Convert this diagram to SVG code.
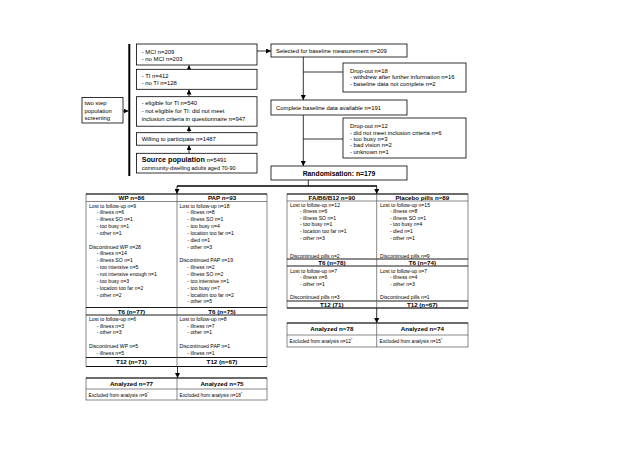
<svg xmlns="http://www.w3.org/2000/svg" width="640" height="452" viewBox="0 0 640 452">
<style>
text{font-family:"Liberation Sans",Arial,sans-serif;fill:#000}
.t{font-size:5.9px}
.s{font-size:5.1px}
.x{font-size:4.8px}
.h{font-weight:bold;font-size:6.2px;text-anchor:middle}
.box{fill:#fff;stroke:#000;stroke-width:0.8}
.tb{fill:#fff;stroke:#555;stroke-width:0.7}
.g{stroke:#555;stroke-width:0.7;fill:none}
.k{stroke:#000;stroke-width:0.9;fill:none}
.ln{stroke:#000;stroke-width:0.8;fill:none}
</style>
<defs>
<marker id="ah" markerUnits="userSpaceOnUse" markerWidth="5" markerHeight="5" refX="5" refY="2.5" orient="auto">
<path d="M0,0 L5,2.5 L0,5 z" fill="#000"/>
</marker>
</defs>
<rect width="640" height="452" fill="#fff"/>

<g id="connectors">
<line class="ln" x1="123" y1="111" x2="128.5" y2="111" marker-end="url(#ah)"/>
<line x1="129.3" y1="44" x2="129.3" y2="176" stroke="#000" stroke-width="2"/>
<line class="ln" x1="189" y1="153.3" x2="189" y2="145.2" marker-end="url(#ah)"/>
<line class="ln" x1="189" y1="132.7" x2="189" y2="126.2" marker-end="url(#ah)"/>
<line class="ln" x1="189" y1="96.7" x2="189" y2="89.5" marker-end="url(#ah)"/>
<line class="ln" x1="189" y1="69.3" x2="189" y2="65.2" marker-end="url(#ah)"/>
<line class="ln" x1="257" y1="51" x2="271" y2="51" marker-end="url(#ah)"/>
<line class="ln" x1="303.3" y1="57" x2="303.3" y2="100" marker-end="url(#ah)"/>
<line class="ln" x1="303.3" y1="72" x2="343" y2="72"/>
<line class="ln" x1="303.3" y1="115" x2="303.3" y2="166" marker-end="url(#ah)"/>
<line class="ln" x1="303.3" y1="139" x2="343" y2="139"/>
<line class="ln" x1="308.3" y1="180" x2="308.3" y2="186"/>
<line x1="177" y1="186" x2="377" y2="186" stroke="#000" stroke-width="1.4"/>
<line class="ln" x1="177" y1="186" x2="177" y2="194" marker-end="url(#ah)"/>
<line class="ln" x1="376.7" y1="186" x2="376.7" y2="194" marker-end="url(#ah)"/>
<line class="ln" x1="177.5" y1="366.5" x2="177.5" y2="378" marker-end="url(#ah)"/>
<line class="ln" x1="376.7" y1="308" x2="376.7" y2="323" marker-end="url(#ah)"/>
</g>

<g id="two-step">
<rect class="box" x="82" y="97.5" width="41" height="25.5"/>
<text class="t" x="84.5" y="105.3">two step</text>
<text class="t" x="84.5" y="112.7">population</text>
<text class="t" x="84.5" y="119.9">screening</text>
</g>

<g id="mci">
<rect class="box" x="136.5" y="44" width="120.5" height="21"/>
<text class="t" x="141.7" y="53.7">- MCI n=209</text>
<text class="t" x="141.7" y="61.3">- no MCI n=203</text>
</g>
<g id="ti">
<rect class="box" x="136.5" y="69.3" width="120.5" height="20"/>
<text class="t" x="141.7" y="78">- TI n=412</text>
<text class="t" x="141.7" y="85.3">- no TI n=128</text>
</g>
<g id="eligible">
<rect class="box" x="136.5" y="96.7" width="120.5" height="29.5"/>
<text class="t" x="141.7" y="105.3">- eligible for TI n=540</text>
<text class="t" x="141.7" y="112.7">- not eligible for TI: did not meet</text>
<text class="t" x="141.7" y="121">inclusion criteria in questionnaire n=947</text>
</g>
<g id="willing">
<rect class="box" x="136.5" y="132.7" width="120.5" height="12.5"/>
<text class="t" x="141.7" y="141.2">Willing to participate n=1487</text>
</g>
<g id="source">
<rect class="box" x="136.5" y="153.3" width="120.5" height="19.7"/>
<text x="141.7" y="161.8" style="font-size:7.2px;font-weight:bold">Source population <tspan style="font-size:5.9px;font-weight:normal">n=5491</tspan></text>
<text class="t" x="141.7" y="169.5" style="font-size:5.5px">community-dwelling adults aged 70-90</text>
</g>

<g id="selected">
<rect class="box" x="271" y="44" width="136" height="13"/>
<text class="t" x="276" y="52.7">Selected for baseline measurement n=209</text>
</g>
<g id="dropout18">
<rect class="box" x="343" y="63" width="123" height="29"/>
<text class="t" x="350" y="72.5">Drop-out n=18</text>
<text class="t" x="350" y="79">- withdrew after further information n=16</text>
<text class="t" x="350" y="85.5">- baseline data not complete n=2</text>
</g>
<g id="complete">
<rect class="box" x="271" y="100" width="136" height="15"/>
<text class="t" x="276" y="109.5">Complete baseline data available n=191</text>
</g>
<g id="dropout12">
<rect class="box" x="343" y="118" width="123" height="40"/>
<text class="t" x="350" y="128">Drop-out n=12</text>
<text class="t" x="350" y="134.5">- did not meet inclusion criteria n=6</text>
<text class="t" x="350" y="141">- too busy n=3</text>
<text class="t" x="350" y="147.3">- bad vision n=2</text>
<text class="t" x="350" y="153.6">- unknown n=1</text>
</g>
<g id="randomisation">
<rect class="box" x="271" y="166" width="136" height="14"/>
<text x="339" y="175.6" style="font-size:6.8px;font-weight:bold;text-anchor:middle">Randomisation: n=179</text>
</g>

<g id="table-wp-pap">
<rect class="tb" x="86" y="194" width="181" height="172.5"/>
<line class="k" x1="86" y1="194" x2="267" y2="194"/>
<line class="g" x1="86" y1="201.5" x2="267" y2="201.5"/>
<line class="k" x1="86" y1="307.5" x2="267" y2="307.5"/>
<line class="k" x1="86" y1="315" x2="267" y2="315"/>
<line class="k" x1="86" y1="357.5" x2="267" y2="357.5"/>
<line class="k" x1="86" y1="366.5" x2="267" y2="366.5"/>
<line class="g" x1="177" y1="194" x2="177" y2="366.5"/>
<text class="h" x="131.5" y="200">WP n=86</text>
<text class="h" x="222" y="200">PAP n=93</text>
<g class="s">
<text class="s" x="89" y="207.5">Lost to follow-up n=9</text>
<text class="s" x="96.7" y="214.35">- illness n=6</text>
<text class="s" x="96.7" y="221.2">- illness SO n=1</text>
<text class="s" x="96.7" y="228.05">- too busy n=1</text>
<text class="s" x="96.7" y="234.9">- other n=1</text>
<text class="s" x="89" y="248.6">Discontinued WP n=28</text>
<text class="s" x="96.7" y="255.45">- illness n=14</text>
<text class="s" x="96.7" y="262.3">- illness SO n=1</text>
<text class="s" x="96.7" y="269.15">- too intensive n=5</text>
<text class="s" x="96.7" y="276">- not intensive enough n=1</text>
<text class="s" x="96.7" y="282.85">- too busy n=3</text>
<text class="s" x="96.7" y="289.7">- location too far n=2</text>
<text class="s" x="96.7" y="296.55">- other n=2</text>
<text class="s" x="179.5" y="207.5">Lost to follow-up n=18</text>
<text class="s" x="187.3" y="214.35">- illness n=8</text>
<text class="s" x="187.3" y="221.2">- illness SO n=1</text>
<text class="s" x="187.3" y="228.05">- too busy n=4</text>
<text class="s" x="187.3" y="234.9">- location too far n=1</text>
<text class="s" x="187.3" y="241.75">- died n=1</text>
<text class="s" x="187.3" y="248.6">- other n=3</text>
<text class="s" x="179.5" y="262.3">Discontinued PAP n=19</text>
<text class="s" x="187.3" y="269.15">- illness n=2</text>
<text class="s" x="187.3" y="276">- illness SO n=2</text>
<text class="s" x="187.3" y="282.85">- too intensive n=1</text>
<text class="s" x="187.3" y="289.7">- too busy n=7</text>
<text class="s" x="187.3" y="296.55">- location too far n=2</text>
<text class="s" x="187.3" y="303.4">- other n=5</text>
</g>
<text class="h" x="131.5" y="313.5">T6 (n=77)</text>
<text class="h" x="222" y="313.5">T6 (n=75)</text>
<text class="s" x="89" y="320.8">Lost to follow-up n=6</text>
<text class="s" x="96.7" y="327.6">- illness n=3</text>
<text class="s" x="96.7" y="334.4">- other n=3</text>
<text class="s" x="89" y="348.4">Discontinued WP n=5</text>
<text class="s" x="96.7" y="355.2">- illness n=5</text>
<text class="s" x="179.5" y="320.8">Lost to follow-up n=8</text>
<text class="s" x="187.3" y="327.6">- illness n=7</text>
<text class="s" x="187.3" y="334.4">- other n=1</text>
<text class="s" x="179.5" y="348.4">Discontinued PAP n=1</text>
<text class="s" x="187.3" y="355.2">- illness n=1</text>
<text class="h" x="131.5" y="364.3">T12 (n=71)</text>
<text class="h" x="222" y="364.3">T12 (n=67)</text>
</g>

<g id="table-pills">
<rect class="tb" x="287" y="194" width="181" height="114"/>
<line class="k" x1="287" y1="194" x2="468" y2="194"/>
<line class="g" x1="287" y1="201" x2="468" y2="201"/>
<line class="k" x1="287" y1="259" x2="468" y2="259"/>
<line class="k" x1="287" y1="266" x2="468" y2="266"/>
<line class="k" x1="287" y1="301" x2="468" y2="301"/>
<line class="k" x1="287" y1="308" x2="468" y2="308"/>
<line class="g" x1="376.7" y1="194" x2="376.7" y2="308"/>
<text class="h" x="331.8" y="199.8">FA/B6/B12 n=90</text>
<text class="h" x="422.3" y="199.8">Placebo pills n=89</text>
<text class="s" x="290" y="206.8">Lost to follow-up n=12</text>
<text class="s" x="300" y="213.35">- illness n=6</text>
<text class="s" x="300" y="219.9">- illness SO n=1</text>
<text class="s" x="300" y="226.45">- too busy n=1</text>
<text class="s" x="300" y="233">- location too far n=1</text>
<text class="s" x="300" y="239.55">- other n=3</text>
<text class="s" x="290" y="257.6">Discontinued pills n=2</text>
<text class="s" x="380" y="206.8">Lost to follow-up n=15</text>
<text class="s" x="390" y="213.35">- illness n=8</text>
<text class="s" x="390" y="219.9">- illness SO n=1</text>
<text class="s" x="390" y="226.45">- too busy n=4</text>
<text class="s" x="390" y="233">- died n=1</text>
<text class="s" x="390" y="239.55">- other n=1</text>
<text class="s" x="380" y="257.6">Discontinued pills n=9</text>
<text class="h" x="331.8" y="264.8">T6 (n=78)</text>
<text class="h" x="422.3" y="264.8">T6 (n=74)</text>
<text class="s" x="290" y="272.5">Lost to follow-up n=7</text>
<text class="s" x="300" y="279">- illness n=6</text>
<text class="s" x="300" y="285.6">- other n=1</text>
<text class="s" x="290" y="299">Discontinued pills n=3</text>
<text class="s" x="380" y="272.5">Lost to follow-up n=7</text>
<text class="s" x="390" y="279">- illness n=4</text>
<text class="s" x="390" y="285.6">- other n=3</text>
<text class="s" x="380" y="299">Discontinued pills n=1</text>
<text class="h" x="331.8" y="306.8">T12 (71)</text>
<text class="h" x="422.3" y="306.8">T12 (n=67)</text>
</g>

<g id="analyzed-left">
<rect class="tb" x="86" y="378" width="181" height="22"/>
<line class="k" x1="86" y1="378" x2="267" y2="378"/>
<line class="g" x1="86" y1="389" x2="267" y2="389"/>
<line class="g" x1="177" y1="378" x2="177" y2="400"/>
<text class="h" x="131.5" y="386.3">Analyzed n=77</text>
<text class="h" x="222" y="386.3">Analyzed n=75</text>
<text class="x" x="88.5" y="396.7">Excluded from analysis n=9<tspan dy="-1.5" style="font-size:3.5px">*</tspan></text>
<text class="x" x="179.5" y="396.7">Excluded from analysis n=18<tspan dy="-1.5" style="font-size:3.5px">*</tspan></text>
</g>

<g id="analyzed-right">
<rect class="tb" x="287" y="323" width="181" height="24"/>
<line class="k" x1="287" y1="323" x2="468" y2="323"/>
<line class="g" x1="287" y1="335" x2="468" y2="335"/>
<line class="g" x1="376.7" y1="323" x2="376.7" y2="347"/>
<text class="h" x="331.8" y="331.2">Analyzed n=78</text>
<text class="h" x="422.3" y="331.2">Analyzed n=74</text>
<text class="x" x="289.5" y="342.5">Excluded from analysis n=12<tspan dy="-1.5" style="font-size:3.5px">*</tspan></text>
<text class="x" x="379.5" y="342.5">Excluded from analysis n=15<tspan dy="-1.5" style="font-size:3.5px">*</tspan></text>
</g>
</svg>
